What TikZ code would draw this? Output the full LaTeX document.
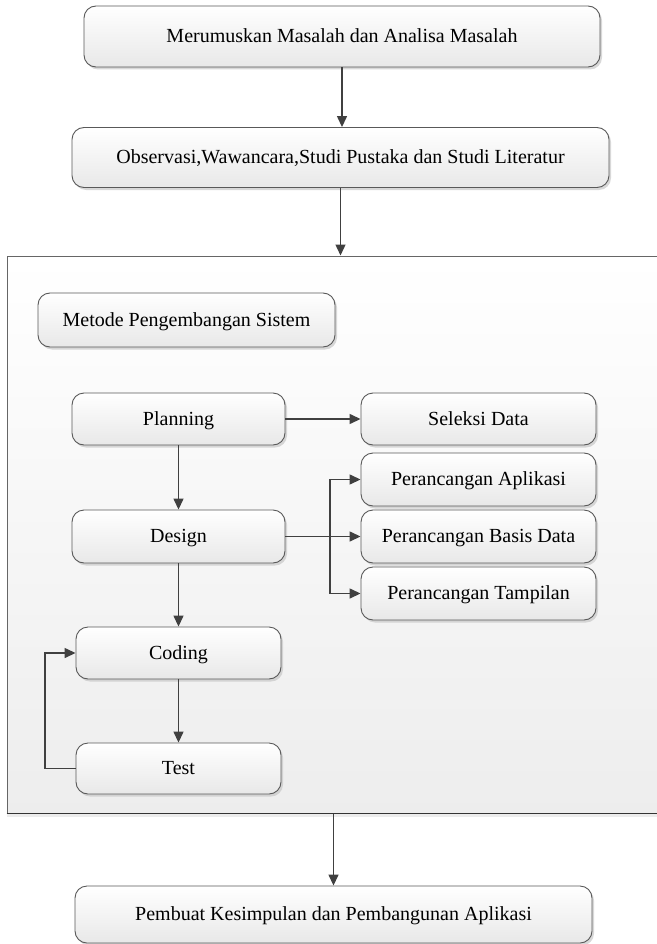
\documentclass[tikz,border=0pt]{standalone}
\usepackage{fontspec}
\setmainfont{Liberation Serif}
\usetikzlibrary{arrows.meta,shadows,calc}
\begin{document}
\begin{tikzpicture}[x=1pt,y=-1pt,
  box/.style={draw=black!65, line width=0.9pt, rounded corners=12pt,
    top color=white, bottom color=black!9,
    drop shadow={shadow xshift=2pt, shadow yshift=-2.5pt, fill=black!22, opacity=0.7},
    font=\fontsize{20}{24}\selectfont, inner sep=0pt, align=center,
    text height=16pt, text depth=4pt},
  arr/.style={draw=black!75, line width=1.4pt, -{Triangle[length=11pt,width=10pt]}},
  ln/.style={draw=black!75, line width=1.4pt}]
\useasboundingbox (0,0) rectangle (656,944);
% container (its right side runs past the picture's edge)
\node[draw=black!60, line width=1pt, top color=white, bottom color=black!7,
  drop shadow={shadow xshift=0pt, shadow yshift=-4pt, fill=black!15},
  minimum width=760pt, minimum height=557pt, inner sep=0pt] (cont) at (387,534.5) {};
\draw[black!80, line width=1.2pt] (cont.south west) -- (cont.south east);
% top boxes
\node[box, minimum width=516pt, minimum height=61pt] (b1) at (342,36.5) {Merumuskan Masalah dan Analisa Masalah};
\node[box, minimum width=537pt, minimum height=60pt] (b2) at (340.5,157.5) {Observasi,Wawancara,Studi Pustaka dan Studi Literatur};
% inside
\node[box, minimum width=297pt, minimum height=54pt] (metode) at (186.5,320) {Metode Pengembangan Sistem};
\node[box, minimum width=213pt, minimum height=52pt] (plan) at (178.5,419) {Planning};
\node[box, minimum width=235pt, minimum height=52pt] (sel) at (478.5,419) {Seleksi Data};
\node[box, minimum width=235pt, minimum height=53pt] (apl) at (478.5,479.5) {Perancangan Aplikasi};
\node[box, minimum width=235pt, minimum height=53pt] (bas) at (478.5,536.5) {Perancangan Basis Data};
\node[box, minimum width=235pt, minimum height=53pt] (tam) at (478.5,593.5) {Perancangan Tampilan};
\node[box, minimum width=213pt, minimum height=53pt] (des) at (178.5,536.5) {Design};
\node[box, minimum width=205pt, minimum height=52pt] (cod) at (178.5,653) {Coding};
\node[box, minimum width=205pt, minimum height=51pt] (tes) at (178.5,768.5) {Test};
% final
\node[box, minimum width=517pt, minimum height=57pt] (fin) at (333.5,914.5) {Pembuat Kesimpulan dan Pembangunan Aplikasi};
% connectors
\draw[arr] (b1.south) -- (b1.south |- b2.north);
\draw[arr] (b2.south) -- (b2.south |- cont.north);
\draw[arr] (fin.north |- cont.south) -- (fin.north);
\draw[arr] (plan.east) -- (sel.west);
\draw[arr] (plan.south) -- (des.north);
\coordinate (j) at (330,536.5);
\draw[arr] (des.east) -- (bas.west);
\draw[arr] (j) |- (apl.west);
\draw[arr] (j) |- (tam.west);
\draw[arr] (des.south) -- (cod.north);
\draw[arr] (cod.south) -- (tes.north);
\coordinate (lp) at (45,768.5);
\draw[ln] (tes.west) -- (lp);
\draw[arr] (lp) |- (cod.west);
\end{tikzpicture}
\end{document}
